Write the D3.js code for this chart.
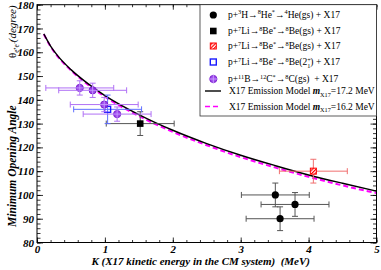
<!DOCTYPE html>
<html><head><meta charset="utf-8">
<script src="https://cdn.jsdelivr.net/npm/d3@7"></script>
<style>body{margin:0;background:#fff} svg{display:block}</style>
</head><body>
<svg id="chart" width="381" height="270"></svg>
<script>
// X17 emission model curves
const modelK = [0.1, 0.2, 0.3, 0.5, 0.75, 1, 1.5, 2, 2.5, 3, 3.5, 4, 4.5, 5];
const model172 = [167.7, 162.6, 158.7, 152.7, 146.8, 141.8, 133.8, 127.2, 121.6, 116.7, 112.4, 108.4, 104.9, 101.6];
const model162 = [167.6, 162.4, 158.4, 152.4, 146.4, 141.3, 133.2, 126.5, 120.9, 115.9, 111.6, 107.6, 104.0, 100.8];

// measured points
const heK = [3.51, 3.80, 3.58], heAngle = [100, 96, 90], heKErr = [0.5, 0.5, 0.5], heAngleErr = [5, 5, 5];
const beK = [1.52], beAngle = [130], beKErr = [0.5], beAngleErr = [5];
const be2K = [4.07], be2Angle = [110], be2KErr = [0.5], be2AngleErr = [5];
const be21K = [1.04], be21Angle = [136], be21KErr = [0.5], be21AngleErr = [6];
const cK = [0.63, 0.82, 0.99, 1.18], cAngle = [145, 144, 138, 134], cKErr = [0.5, 0.5, 0.5, 0.5], cAngleErr = [3, 3, 3, 3];

const kTicks = [0, 1, 2, 3, 4, 5];
const angleTicks = [80, 90, 100, 110, 120, 130, 140, 150, 160, 170, 180];

const serif = "'Liberation Serif', 'Times New Roman', serif";
const mLeft = 37, mRight = 376.5, mTop = 4.7, mBottom = 242.5;

const svg = d3.select("#chart").style("font-family", serif);

const defs = svg.append("defs");
const hatch = defs.append("pattern").attr("id", "hatch")
  .attr("width", 2.5).attr("height", 2.5)
  .attr("patternUnits", "userSpaceOnUse")
  .attr("patternTransform", "rotate(45)");
hatch.append("rect").attr("width", 2.5).attr("height", 2.5).attr("fill", "#fff");
hatch.append("rect").attr("width", 1.2).attr("height", 2.5).attr("fill", "#f00");

const x = d3.scaleLinear().domain([0, 5]).range([mLeft, mRight]);
const y = d3.scaleLinear().domain([80, 180]).range([mBottom, mTop]);

const series = [
  { k: heK, a: heAngle, ke: heKErr, ae: heAngleErr, marker: "circle", color: "#000", bar: "#555",
    label: [["p+"], ["3", "sup"], ["H\u2192"], ["8", "sup"], ["He"], ["*", "sup"], ["\u2192"], ["4", "sup"], ["He(gs) + X17"]] },
  { k: beK, a: beAngle, ke: beKErr, ae: beAngleErr, marker: "square", color: "#000", bar: "#555",
    label: [["p+"], ["7", "sup"], ["Li\u2192"], ["8", "sup"], ["Be"], ["*", "sup"], ["\u2192"], ["8", "sup"], ["Be(gs) + X17"]] },
  { k: be2K, a: be2Angle, ke: be2KErr, ae: be2AngleErr, marker: "hatch", color: "#f00", bar: "#f07070",
    label: [["p+"], ["7", "sup"], ["Li\u2192"], ["8", "sup"], ["Be"], ["*", "sup"], ["\u2192"], ["8", "sup"], ["Be(gs) + X17"]] },
  { k: be21K, a: be21Angle, ke: be21KErr, ae: be21AngleErr, marker: "open", color: "#1a1aff", bar: "#6070ff",
    label: [["p+"], ["7", "sup"], ["Li\u2192"], ["8", "sup"], ["Be"], ["*", "sup"], ["\u2192"], ["8", "sup"], ["Be(2"], ["+", "sup"], ["1", "sub", -3.5], [") + X17"]] },
  { k: cK, a: cAngle, ke: cKErr, ae: cAngleErr, marker: "cross", color: "#8e2ce8", bar: "#b070f5",
    label: [["p+"], ["11", "sup"], ["B\u2192"], ["12", "sup"], ["C"], ["*", "sup"], ["\u2192"], ["8", "sup"], ["C(gs)\u00a0 + X17"]] }
];

function rich(text, segs, size) {
  let shift = 0;
  segs.forEach(([t, kind, dx]) => {
    const target = kind === "sup" ? -size * 0.4 : kind === "sub" ? size * 0.28 : 0;
    const ts = text.append("tspan").text(t).attr("dy", target - shift);
    if (dx) ts.attr("dx", dx);
    shift = target;
    if (kind === "sup" || kind === "sub") ts.attr("font-size", size * 0.66);
    if (kind === "bi") ts.attr("font-weight", "bold").attr("font-style", "italic");
  });
}

function drawMarker(g, type, color, cx, cy) {
  if (type === "circle") {
    g.append("circle").attr("cx", cx).attr("cy", cy).attr("r", 3.6).attr("fill", color);
  } else if (type === "square") {
    g.append("rect").attr("x", cx - 3.3).attr("y", cy - 3.3).attr("width", 6.6).attr("height", 6.6).attr("fill", color);
  } else if (type === "hatch") {
    g.append("rect").attr("x", cx - 3).attr("y", cy - 3).attr("width", 6).attr("height", 6)
      .attr("fill", "url(#hatch)").attr("stroke", color).attr("stroke-width", 1);
  } else if (type === "open") {
    g.append("rect").attr("x", cx - 3).attr("y", cy - 3).attr("width", 6).attr("height", 6)
      .attr("fill", "none").attr("stroke", color).attr("stroke-width", 1.4);
  } else if (type === "cross") {
    g.append("circle").attr("cx", cx).attr("cy", cy).attr("r", 3.6)
      .attr("fill", color).attr("fill-opacity", 0.85).attr("stroke", "#7a1fd0").attr("stroke-width", 1);
    g.append("path").attr("d", `M${cx - 4.5},${cy}H${cx + 4.5}M${cx},${cy - 4.5}V${cy + 4.5}`)
      .attr("stroke", "#c9a0ff").attr("stroke-width", 0.9);
  }
}

// curves
const line = d3.line().x(d => x(d[0])).y(d => y(d[1])).curve(d3.curveMonotoneX);
svg.append("path").datum(modelK.map((k, i) => [k, model162[i]]))
  .attr("d", line).attr("fill", "none").attr("stroke", "#ff00ff")
  .attr("stroke-width", 2).attr("stroke-dasharray", "5,3");
svg.append("path").datum(modelK.map((k, i) => [k, model172[i]]))
  .attr("d", line).attr("fill", "none").attr("stroke", "#000").attr("stroke-width", 1.4);

// points with error bars
const cap = 3;
series.forEach(s => {
  const g = svg.append("g");
  s.k.forEach((k, i) => {
    const cx = x(k), cy = y(s.a[i]);
    const x1 = x(k - s.ke[i]), x2 = x(k + s.ke[i]);
    const y1 = y(s.a[i] + s.ae[i]), y2 = y(s.a[i] - s.ae[i]);
    g.append("path")
      .attr("d", `M${x1},${cy}H${x2}M${x1},${cy - cap}V${cy + cap}M${x2},${cy - cap}V${cy + cap}` +
        `M${cx},${y1}V${y2}M${cx - cap},${y1}H${cx + cap}M${cx - cap},${y2}H${cx + cap}`)
      .attr("fill", "none").attr("stroke", s.bar).attr("stroke-width", 1);
    drawMarker(g, s.marker, s.color, cx, cy);
  });
});

// frame and ticks (inward, all sides)
const axes = svg.append("g").attr("font-family", serif);
const kMinor = d3.range(0, 5.001, 0.2);
const angleMinor = d3.range(80, 180.1, 2);
function ticks(axis, tr) {
  const a = axes.append("g").attr("transform", tr).call(axis);
  a.select(".domain").remove();
  a.selectAll("line").attr("stroke", "#000").attr("stroke-width", 0.8);
  return a;
}
ticks(d3.axisLeft(y).tickValues(angleMinor).tickSize(-3.5).tickFormat(""), `translate(${mLeft},0)`);
ticks(d3.axisRight(y).tickValues(angleMinor).tickSize(-3.5).tickFormat(""), `translate(${mRight},0)`);
ticks(d3.axisRight(y).tickValues(angleTicks).tickSize(-6).tickFormat(""), `translate(${mRight},0)`);
ticks(d3.axisBottom(x).tickValues(kMinor).tickSize(-2.5).tickFormat(""), `translate(0,${mBottom})`);
ticks(d3.axisTop(x).tickValues(kMinor).tickSize(-2.5).tickFormat(""), `translate(0,${mTop})`);
ticks(d3.axisTop(x).tickValues(kTicks).tickSize(-5).tickFormat(""), `translate(0,${mTop})`);
const yl = ticks(d3.axisLeft(y).tickValues(angleTicks).tickSize(-6).tickPadding(3).tickFormat(d3.format("d")), `translate(${mLeft},0)`);
const xl = ticks(d3.axisBottom(x).tickValues(kTicks).tickSize(-5).tickPadding(3).tickFormat(d3.format("d")), `translate(0,${mBottom})`);
[yl, xl].forEach(a => a.selectAll("text")
  .attr("font-family", serif).attr("font-size", 11).attr("font-weight", "bold")
  .attr("font-style", "italic").attr("fill", "#000"));

axes.append("rect").attr("x", mLeft).attr("y", mTop).attr("width", mRight - mLeft).attr("height", mBottom - mTop)
  .attr("fill", "none").attr("stroke", "#000").attr("stroke-width", 1);

// legend
const lg = svg.append("g");
lg.append("rect").attr("x", 200).attr("y", mTop).attr("width", mRight - 200).attr("height", 111.3)
  .attr("fill", "#fff").attr("stroke", "#333").attr("stroke-width", 0.8);
const rowY = [15, 31, 46, 62, 79, 91, 106.5];
const fs = 9.5;
series.forEach((s, i) => {
  drawMarker(lg, s.marker, s.color, 213.3, rowY[i]);
  const t = lg.append("text").attr("x", 228).attr("y", rowY[i] + 3.3).attr("font-size", fs);
  rich(t, s.label, fs);
});
const modelLabels = [
  [["X17 Emission Model "], ["m", "bi"], ["X17", "sub"], ["=17.2 MeV"]],
  [["X17 Emission Model "], ["m", "bi"], ["X17", "sub"], ["=16.2 MeV"]]
];
lg.append("line").attr("x1", 205).attr("x2", 221).attr("y1", rowY[5]).attr("y2", rowY[5])
  .attr("stroke", "#000").attr("stroke-width", 1.4);
lg.append("line").attr("x1", 205).attr("x2", 221).attr("y1", rowY[6]).attr("y2", rowY[6])
  .attr("stroke", "#ff00ff").attr("stroke-width", 1.6).attr("stroke-dasharray", "5,3");
modelLabels.forEach((segs, i) => {
  const t = lg.append("text").attr("x", 229).attr("y", rowY[5 + i] + 3.3).attr("font-size", fs);
  rich(t, segs, fs);
});

// axis titles
svg.append("text").attr("x", (mLeft + mRight) / 2 - 6).attr("y", 265)
  .attr("text-anchor", "middle").attr("font-size", 11).attr("font-weight", "bold").attr("font-style", "italic")
  .text("K (X17 kinetic energy in the CM system)\u00a0 (MeV)");

const yt = svg.append("g").attr("transform", "translate(16,0) rotate(-90)");
yt.append("text").attr("x", -227).attr("y", 0).attr("font-size", 11.5)
  .attr("font-weight", "bold").attr("font-style", "italic").text("Minimum Opening Angle");
const yt2 = yt.append("text").attr("x", -58).attr("y", 0).attr("font-size", 11);
rich(yt2, [["\u03b8"], ["e\u207ae\u207b", "sub"]], 11);
yt2.append("tspan").attr("dy", -11 * 0.28).attr("font-style", "italic").text("(degree)");
</script>
</body></html>
